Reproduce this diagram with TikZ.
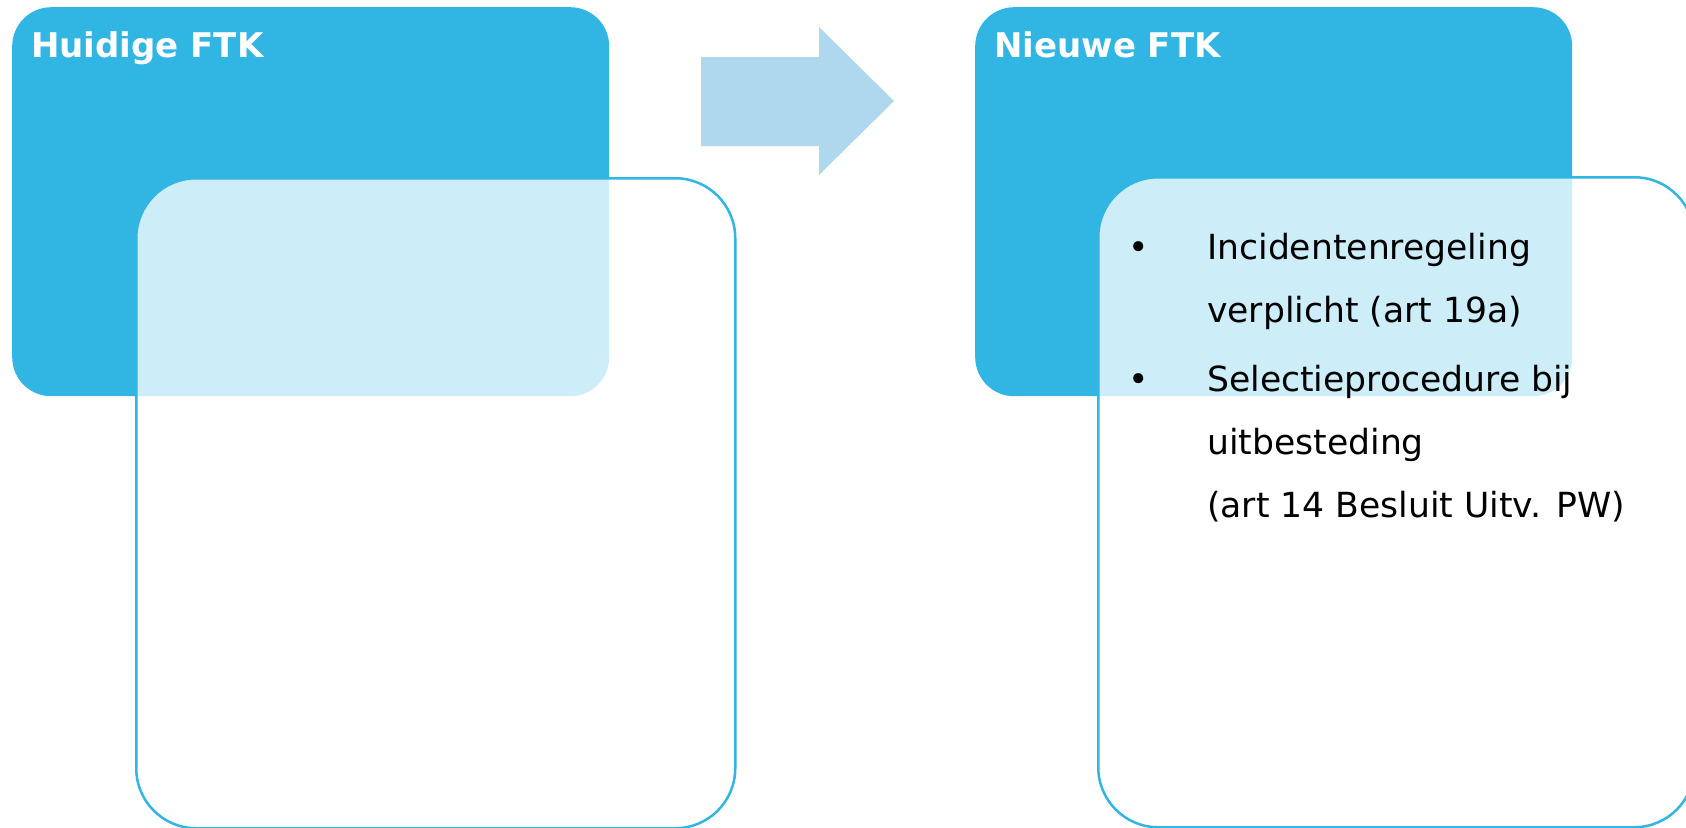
\documentclass[tikz,border=0pt]{standalone}
\usepackage{fontspec}
\setmainfont{DejaVu Sans}
\definecolor{ftkblue}{RGB}{49,181,227}
\definecolor{arrowblue}{RGB}{175,215,238}
\begin{document}
\begin{tikzpicture}[x=1pt,y=-1pt,
  bluebox/.style={rectangle, fill=ftkblue, draw=none, rounded corners=39pt,
    minimum width=597pt, minimum height=389pt, anchor=north west, inner sep=0pt},
  whitebox/.style={rectangle, draw=ftkblue, line width=2.5pt, fill=white, fill opacity=0.76,
    rounded corners=60pt, minimum height=650pt, anchor=north west, inner sep=0pt},
  titletext/.style={text=white, font=\fontsize{34}{40}\selectfont\bfseries, anchor=base west, inner sep=0pt},
  bodytext/.style={text=black, font=\fontsize{34.6}{40}\selectfont, anchor=base west, inner sep=0pt},
  bulletmark/.style={text=black, font=\fontsize{34.6}{40}\selectfont, anchor=base, inner sep=0pt}]
\useasboundingbox (0,0) rectangle (1686,827);
\fill[white] (0,0) rectangle (1686,827);

% left group
\node[bluebox] (b1) at (12,7) {};
\node[whitebox, minimum width=599pt] (w1) at (135,177) {};
\node[titletext] (t1) at (31,57) {Huidige FTK};

% arrow
\fill[arrowblue] (701,57) -- (819,57) -- (819,27) -- (894,101) -- (819,175) -- (819,146) -- (701,146) -- cycle;

% right group
\node[bluebox] (b2) at (975,7) {};
\node[whitebox, minimum width=596pt] (w2) at (1097,176) {};
\node[titletext] (t2) at (994,57) {Nieuwe FTK};

\node[bulletmark] (p1) at (1139,259) {•};
\node[bodytext] (l1) at (1207,259) {Incidentenregeling};
\node[bodytext] (l2) at (1207,322) {verplicht (art 19a)};
\node[bulletmark] (p2) at (1139,391) {•};
\node[bodytext] (l3) at (1207,391) {Selectieprocedure bij};
\node[bodytext] (l4) at (1207,454) {uitbesteding};
\node[bodytext] (l5) at (1207,517) {(art 14 Besluit Uitv. PW)};
\end{tikzpicture}
\end{document}
